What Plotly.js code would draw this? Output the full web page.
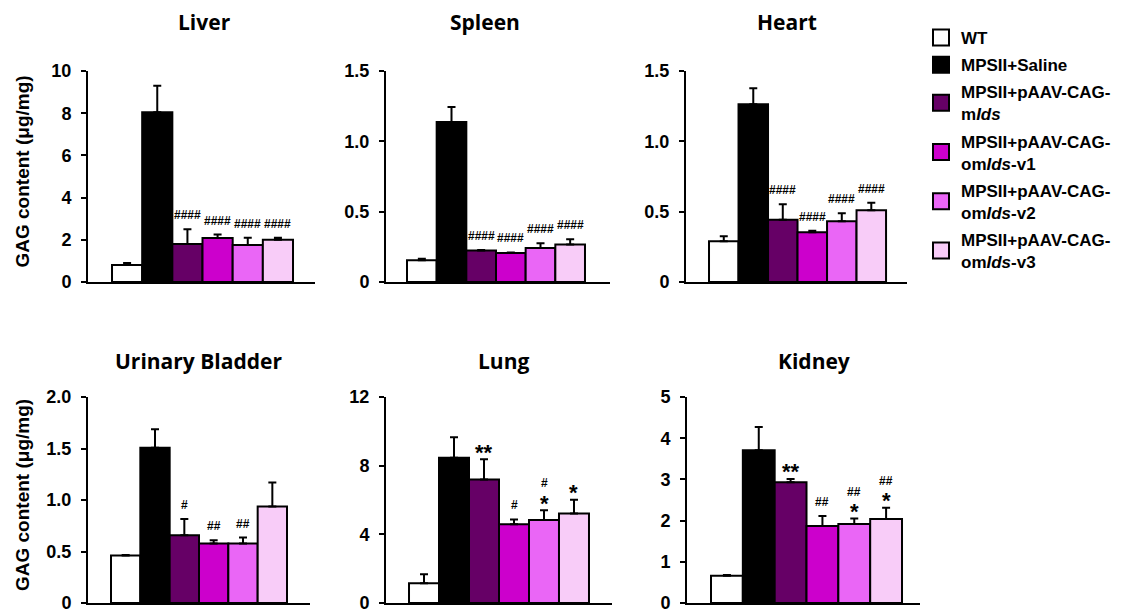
<!DOCTYPE html>
<html>
<head>
<meta charset="utf-8">
<script src="https://cdn.plot.ly/plotly-3.0.1.min.js"></script>
<style>html,body{margin:0;padding:0;background:#fff;}#chart{width:1123px;height:616px;}</style>
</head>
<body>
<div id="chart"></div>
<script>
// ---- data ----
const groups = ['WT', 'MPSII+Saline', 'MPSII+pAAV-CAG-mIds', 'MPSII+pAAV-CAG-omIds-v1', 'MPSII+pAAV-CAG-omIds-v2', 'MPSII+pAAV-CAG-omIds-v3'];
const legendLabels = ['WT', 'MPSII+Saline', 'MPSII+pAAV-CAG-<br>m<i>Ids</i>', 'MPSII+pAAV-CAG-<br>om<i>Ids</i>-v1', 'MPSII+pAAV-CAG-<br>om<i>Ids</i>-v2', 'MPSII+pAAV-CAG-<br>om<i>Ids</i>-v3'];
const groupColors = ['#ffffff', '#000000', '#660066', '#cc00cc', '#ea66f6', '#f8ccf8'];

const organs = ['Liver', 'Spleen', 'Heart', 'Urinary Bladder', 'Lung', 'Kidney'];

const liverMean   = [0.80, 8.05, 1.80, 2.08, 1.75, 2.00];
const liverErr    = [0.10, 1.25, 0.70, 0.17, 0.35, 0.10];
const spleenMean  = [0.155, 1.137, 0.224, 0.207, 0.242, 0.266];
const spleenErr   = [0.010, 0.107, 0.003, 0.003, 0.034, 0.038];
const heartMean   = [0.290, 1.263, 0.443, 0.353, 0.431, 0.510];
const heartErr    = [0.035, 0.114, 0.109, 0.012, 0.057, 0.054];
const bladderMean = [0.461, 1.508, 0.657, 0.578, 0.578, 0.937];
const bladderErr  = [0.005, 0.178, 0.159, 0.032, 0.057, 0.234];
const lungMean    = [1.15, 8.46, 7.19, 4.59, 4.84, 5.22];
const lungErr     = [0.53, 1.19, 1.18, 0.28, 0.57, 0.80];
const kidneyMean  = [0.662, 3.71, 2.93, 1.87, 1.92, 2.04];
const kidneyErr   = [0.020, 0.56, 0.08, 0.24, 0.13, 0.27];

const liverHash   = ['', '', '####', '####', '####', '####'];
const spleenHash  = ['', '', '####', '####', '####', '####'];
const heartHash   = ['', '', '####', '####', '####', '####'];
const bladderHash = ['', '', '#', '##', '##', ''];
const lungHash    = ['', '', '', '#', '#', ''];
const kidneyHash  = ['', '', '', '##', '##', '##'];
const noStar      = ['', '', '', '', '', ''];
const lungStar    = ['', '', '**', '', '*', '*'];
const kidneyStar  = ['', '', '**', '', '*', '*'];

const liverTicks   = [0, 2, 4, 6, 8, 10];
const liverTickText = ['0', '2', '4', '6', '8', '10'];
const halfTicks    = [0, 0.5, 1, 1.5];
const halfTickText = ['0', '0.5', '1.0', '1.5'];
const bladderTicks = [0, 0.5, 1, 1.5, 2];
const bladderTickText = ['0', '0.5', '1.0', '1.5', '2.0'];
const lungTicks    = [0, 4, 8, 12];
const lungTickText = ['0', '4', '8', '12'];
const kidneyTicks  = [0, 1, 2, 3, 4, 5];
const kidneyTickText = ['0', '1', '2', '3', '4', '5'];

const yTitle = 'GAG content (\u03bcg/mg)';

// ---- layout configuration (pixels in the 1123x616 page) ----
const W = 1123, H = 616;
const panels = [
  {mean: liverMean,   err: liverErr,   hash: liverHash,   star: noStar,     ticks: liverTicks,   tickText: liverTickText,   ymax: 10,  px: [88, 315],  py: [71, 282],  xr: [-1.296, 6.229], title: [204, 22], ytitle: true},
  {mean: spleenMean,  err: spleenErr,  hash: spleenHash,  star: noStar,     ticks: halfTicks,    tickText: halfTickText,    ymax: 1.5, px: [386, 610], py: [71, 282],  xr: [-1.208, 6.343], title: [485, 22]},
  {mean: heartMean,   err: heartErr,   hash: heartHash,   star: noStar,     ticks: halfTicks,    tickText: halfTickText,    ymax: 1.5, px: [686, 907], py: [71, 282],  xr: [-1.28, 6.21],   title: [787, 22]},
  {mean: bladderMean, err: bladderErr, hash: bladderHash, star: noStar,     ticks: bladderTicks, tickText: bladderTickText, ymax: 2,   px: [88, 310],  py: [397, 603], xr: [-1.284, 6.284], title: [198, 361], ytitle: true},
  {mean: lungMean,    err: lungErr,    hash: lungHash,    star: lungStar,   ticks: lungTicks,    tickText: lungTickText,    ymax: 12,  px: [386, 612], py: [397, 603], xr: [-1.267, 6.267], title: [504, 361]},
  {mean: kidneyMean,  err: kidneyErr,  hash: kidneyHash,  star: kidneyStar, ticks: kidneyTicks, tickText: kidneyTickText, ymax: 5,   px: [687, 920], py: [397, 603], xr: [-1.254, 6.065], title: [814, 361]}
];

const AX = 'Liberation Sans, Arial, sans-serif';
const TITLEF = 'Open Sans, sans-serif';

const traces = [];
const layout = {
  width: W, height: H,
  margin: {l: 0, r: 0, t: 0, b: 0},
  paper_bgcolor: '#ffffff', plot_bgcolor: '#ffffff',
  barmode: 'overlay',
  showlegend: true,
  legend: {
    x: 921 / W, y: 1 - 20 / H, xanchor: 'left', yanchor: 'top',
    font: {family: AX, size: 17, color: '#000', weight: 'bold'},
    tracegroupgap: 2, bgcolor: 'rgba(0,0,0,0)', itemclick: false
  },
  annotations: []
};

panels.forEach((p, k) => {
  const n = k === 0 ? '' : String(k + 1);
  const xa = 'xaxis' + n, ya = 'yaxis' + n;
  const xr = 'x' + n, yr = 'y' + n;
  traces.push({
    type: 'bar', x: groups, y: p.mean, xaxis: xr, yaxis: yr, width: 1,
    marker: {color: groupColors, line: {color: '#000', width: 2}},
    error_y: {type: 'data', symmetric: false, array: p.err, arrayminus: p.err.map(() => 0), color: '#000', thickness: 2, width: 4},
    showlegend: false, hoverinfo: 'skip'
  });
  layout[xa] = {
    domain: [p.px[0] / W, p.px[1] / W], anchor: yr, type: 'category', categoryorder: 'array', categoryarray: groups,
    range: p.xr, showline: true, linecolor: '#000', linewidth: 2, showticklabels: false, ticks: '',
    showgrid: false, zeroline: false, fixedrange: true
  };
  layout[ya] = {
    domain: [1 - p.py[1] / H, 1 - p.py[0] / H], anchor: xr, range: [0, p.ymax],
    tickmode: 'array', tickvals: p.ticks, ticktext: p.tickText,
    ticks: 'outside', ticklen: 5, tickwidth: 2, tickcolor: '#000', ticklabelstandoff: 6, ticklabeloverflow: 'allow',
    tickfont: {family: AX, size: 18, color: '#000', weight: 'bold'},
    showline: true, linecolor: '#000', linewidth: 2, showgrid: false, zeroline: false, fixedrange: true
  };
  layout.annotations.push({
    xref: 'paper', yref: 'paper', x: p.title[0] / W, y: 1 - p.title[1] / H, xanchor: 'center', yanchor: 'middle',
    text: organs[k], showarrow: false, font: {family: TITLEF, size: 21, color: '#000', weight: 'bold'}
  });
  if (p.ytitle) {
    layout.annotations.push({
      xref: 'paper', yref: 'paper', x: 22 / W, y: 1 - ((p.py[0] + p.py[1]) / 2 - 5) / H, xanchor: 'center', yanchor: 'middle',
      text: yTitle, textangle: -90, showarrow: false, font: {family: AX, size: 19, color: '#000', weight: 'bold'}
    });
  }
  groups.forEach((g, i) => {
    const top = p.mean[i] + p.err[i];
    if (p.star[i]) {
      layout.annotations.push({xref: xr, yref: yr, x: g, y: top, yanchor: 'middle', yshift: 7, text: p.star[i], showarrow: false,
        font: {family: AX, size: 22, color: '#000', weight: 'bold'}});
    }
    if (p.hash[i]) {
      layout.annotations.push({xref: xr, yref: yr, x: g, y: top, yanchor: 'middle', yshift: p.star[i] ? 27 : 14, text: p.hash[i], showarrow: false,
        font: {family: AX, size: 12, color: '#000', weight: 'bold'}});
    }
  });
});

// legend entries
groups.forEach((g, i) => {
  traces.push({
    type: 'scatter', mode: 'markers', x: [null], y: [null], name: legendLabels[i], legendgroup: 'g' + i,
    marker: {symbol: 'square', size: 16, color: groupColors[i], line: {color: '#000', width: 2}},
    showlegend: true, hoverinfo: 'skip'
  });
});

Plotly.newPlot('chart', traces, layout, {displayModeBar: false, staticPlot: true});
</script>
</body>
</html>
